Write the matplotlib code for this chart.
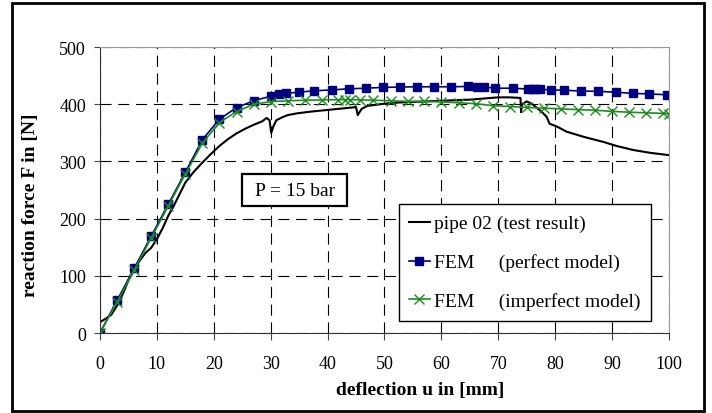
import numpy as np
import matplotlib.pyplot as plt
from matplotlib.patches import Rectangle

plt.rcParams['font.family'] = ['Liberation Serif', 'DejaVu Serif']

# test result (pipe 02)
test_u = [0, 0, 1, 2, 3, 4, 5, 6, 7, 8, 9, 10, 11, 12, 13, 15, 16.5, 18, 19.5, 21, 22.5, 24,
          25.5, 27, 28.5, 29.3, 29.8, 30.1, 30.5, 31, 32, 33, 34.6, 37, 40, 42, 44, 45,
          45.3, 45.6, 46, 47, 50, 52.5, 55, 57.5, 60, 62.5, 65, 67.5, 70, 72, 73.9,
          74, 74.2, 75, 76, 77.6, 78.5, 79, 80.3, 82, 85, 88.5, 90.8, 93.7, 96.7, 100]
test_F = [0, 19, 25, 32, 48, 68, 92, 110, 127, 140, 149, 164, 183, 205, 223, 263, 282, 298, 313, 327, 339, 349,
          357, 364, 370, 376, 372, 350, 362, 372, 377, 381, 384, 387, 390, 392, 394, 395,
          381, 386, 392, 397, 401, 403, 404, 405, 406, 407, 408, 410, 412, 412, 411,
          386, 400, 405, 400, 387, 378, 366, 361, 352, 343, 334, 327, 320, 315, 311]

# FEM perfect model
perf_u = [0, 3, 6, 9, 12, 15, 18, 21, 24, 27, 30, 31.4, 32.7, 34.9, 37.7, 40.7, 43.8, 46.7,
          49.8, 52.7, 55.7, 58.7, 61.7, 64.6, 66.2, 67.5, 69.5, 72.5, 75.3, 75.9, 76.4,
          77.4, 79.2, 81.6, 84.5, 87.6, 90.6, 93.6, 96.5, 99.6]
perf_F = [0, 57, 113, 169, 225, 281, 338, 374, 394, 406, 414, 417, 419, 421, 423.5, 425, 427, 428,
          429.5, 430, 430.5, 430.5, 430.5, 431, 430.5, 430, 428, 428, 426.5, 426.5, 426.5,
          426, 425, 424.5, 423, 422.5, 421, 419, 418, 416.5]

# FEM imperfect model
imp_u = [0, 3, 6, 9, 12, 15, 18, 21, 24, 27, 30, 33.1, 36, 39, 41.9, 43.1, 43.9, 45.7, 48,
         51.1, 54.1, 57, 60, 63.1, 66, 69, 72, 75, 78, 81, 84, 87, 90, 93, 96, 99, 100]
imp_F = [0, 54, 110, 166, 222, 278, 332, 368, 387, 400, 404.5, 406, 407, 407.5, 408, 408, 408, 407.5, 407,
         406, 405, 405, 404, 402.5, 401, 397.5, 396, 394.5, 393, 392, 390.5, 389.5, 387.5, 386, 385, 384, 383]

fig = plt.figure(figsize=(7.12, 4.14), dpi=100)
ax = fig.add_axes([0.1404, 0.1932, 0.7992, 0.6908])

ax.plot(test_u, test_F, color='black', lw=1.5, label='pipe 02 (test result)')
ax.plot(perf_u, perf_F, color='#000080', lw=1.2, marker='s', ms=5.5,
        label='FEM     (perfect model)')
ax.plot(imp_u, imp_F, color='#1e8c1e', lw=1.2, marker='x', ms=6.5, mew=1,
        label='FEM     (imperfect model)')

ax.set_xlim(0, 100)
ax.set_ylim(0, 500)
ax.set_xticks(np.arange(0, 101, 10))
ax.set_yticks(np.arange(0, 501, 100))
ax.set_axisbelow(True)
ax.grid(True, color='black', ls=(0, (10, 6)), lw=0.8)
ax.tick_params(labelsize=13, direction='out', color='#444444')
ax.tick_params(axis='x', length=5, pad=11)
ax.tick_params(axis='y', length=4, pad=6)
for s in ['top', 'right']:
    ax.spines[s].set_color('#999999')
for s in ['left', 'bottom']:
    ax.spines[s].set_color('#333333')

ax.set_xlabel('deflection u in [mm]', fontsize=14, fontweight='bold')
ax.set_ylabel('reaction force F in [N]', fontsize=14, fontweight='bold')
ax.xaxis.set_label_coords(0.562, -0.168)
ax.yaxis.set_label_coords(-0.107, 0.45)

ax.add_patch(Rectangle((25.0, 222), 18.4, 56, fc='white', ec='black', lw=1.6, zorder=4))
ax.text(34.2, 250, 'P = 15 bar', fontsize=14, ha='center', va='center', zorder=5)

leg = ax.legend(loc='lower right', bbox_to_anchor=(0.968, 0.042), fontsize=14, handlelength=1.05,
                handletextpad=0.2, labelspacing=1.08, fancybox=False, framealpha=1,
                edgecolor='black', borderpad=0.55, borderaxespad=0)
leg.get_frame().set_linewidth(1.0)

fig.patches.append(Rectangle((12 / 712, 2 / 414), 692 / 712, 408 / 414, transform=fig.transFigure,
                             fill=False, ec='black', lw=2))

fig.savefig('out.png', dpi=100)
